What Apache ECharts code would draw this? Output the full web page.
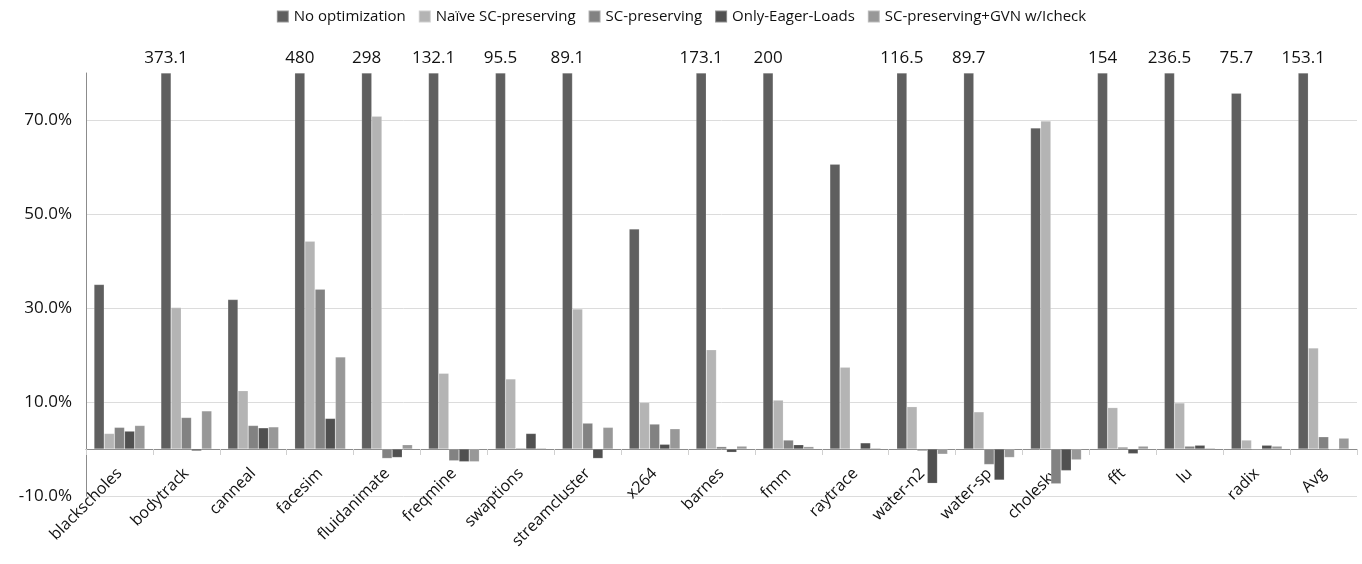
<!DOCTYPE html>
<html>
<head>
<meta charset="utf-8">
<script src="https://cdn.jsdelivr.net/npm/echarts@6/dist/echarts.min.js"></script>
<style>html,body{margin:0;padding:0;background:#fff;}#c{width:1362px;height:564px;}</style>
</head>
<body>
<div id="c"></div>
<script>
const categories = ['blackscholes','bodytrack','canneal','facesim','fluidanimate','freqmine','swaptions','streamcluster','x264','barnes','fmm','raytrace','water-n2','water-sp','cholesky','fft','lu','radix','Avg'];
const seriesNames = ['No optimization','Naïve SC-preserving','SC-preserving','Only-Eager-Loads','SC-preserving+GVN w/Icheck'];
const noOpt    = [35.0, 373.1, 31.8, 480, 298, 132.1, 95.5, 89.1, 46.8, 173.1, 200, 60.6, 116.5, 89.7, 68.3, 154, 236.5, 75.7, 153.1];
const naiveSC  = [3.3, 30.1, 12.4, 44.2, 70.8, 16.1, 14.9, 29.8, 9.9, 21.1, 10.4, 17.4, 9.0, 7.9, 69.8, 8.8, 9.8, 1.9, 21.5];
const scPres   = [4.6, 6.7, 5.0, 34.0, -2.0, -2.5, 0.2, 5.5, 5.3, 0.5, 1.9, 0.0, -0.4, -3.3, -7.4, 0.4, 0.6, 0.0, 2.6];
const eager    = [3.8, -0.4, 4.5, 6.5, -1.8, -2.7, 3.3, -2.0, 1.0, -0.7, 0.9, 1.3, -7.3, -6.6, -4.6, -1.0, 0.8, 0.8, -0.1];
const scGvn    = [5.0, 8.1, 4.7, 19.6, 0.9, -2.7, 0.2, 4.6, 4.3, 0.6, 0.5, 0.2, -1.1, -1.8, -2.3, 0.6, 0.2, 0.6, 2.3];
const yTicks = {min: -10, max: 80, interval: 20};
const labelThreshold = 75;
const colors = ['#5f5f5f','#b4b4b4','#828282','#505050','#989898'];
const FONT = 'Open Sans';

const chart = echarts.init(document.getElementById('c'), null, {renderer: 'canvas'});

function buildNoOpt(offsets) {
  return noOpt.map((v, i) => {
    const item = {value: Math.min(v, yTicks.max)};
    if (v > labelThreshold) {
      item.label = {show: true, position: 'top', distance: 6, formatter: String(v),
        offset: [0, offsets ? offsets[i] : 0]};
    }
    return item;
  });
}

const allData = [null, naiveSC, scPres, eager, scGvn];
function makeOption(offsets, labelMargin) {
  return {
    animation: false,
    color: colors,
    textStyle: {fontFamily: FONT},
    legend: {
      top: 4, left: 'center', itemWidth: 12, itemHeight: 12, itemGap: 12,
      icon: 'rect',
      textStyle: {fontSize: 15, color: '#111', fontFamily: FONT},
      data: seriesNames
    },
    grid: {left: 86, right: 5, top: 73, bottom: 68, containLabel: false, outerBoundsMode: 'none'},
    xAxis: {
      type: 'category', data: categories,
      axisLine: {onZero: true, lineStyle: {color: '#8c8c8c', width: 1}},
      axisTick: {show: true, alignWithLabel: false, length: 6, lineStyle: {color: '#d0d0d0'}},
      axisLabel: {rotate: 45, interval: 0, fontSize: 16, color: '#111', margin: labelMargin, fontFamily: FONT},
      splitLine: {show: false}
    },
    yAxis: {
      type: 'value', min: yTicks.min, max: yTicks.max, interval: yTicks.interval,
      axisLine: {show: true, lineStyle: {color: '#8c8c8c'}},
      axisTick: {show: false},
      axisLabel: {fontSize: 17, color: '#111', margin: 14, fontFamily: FONT, showMaxLabel: false,
        formatter: v => v.toFixed(1) + '%'},
      splitLine: {show: true, showMaxLine: false, lineStyle: {color: '#dcdcdc', width: 1}}
    },
    series: seriesNames.map((name, k) => ({
      name, type: 'bar', barGap: '0%', barCategoryGap: '24%',
      data: k === 0 ? buildNoOpt(offsets) : allData[k],
      label: {show: false, color: '#111', fontSize: 17, fontFamily: FONT},
      itemStyle: {borderColor: 'rgba(255,255,255,0.35)', borderWidth: 0.5}
    }))
  };
}

chart.setOption(makeOption(null, 10));
const yTop = chart.convertToPixel({yAxisIndex: 0}, yTicks.max);
const yZero = chart.convertToPixel({yAxisIndex: 0}, 0);
const yBottom = chart.convertToPixel({yAxisIndex: 0}, yTicks.min);
const offsets = noOpt.map(v => v > labelThreshold && v < yTicks.max
  ? yTop - chart.convertToPixel({yAxisIndex: 0}, v) : 0);
chart.setOption(makeOption(offsets, 22 - (yBottom - yZero)));
</script>
</body>
</html>
